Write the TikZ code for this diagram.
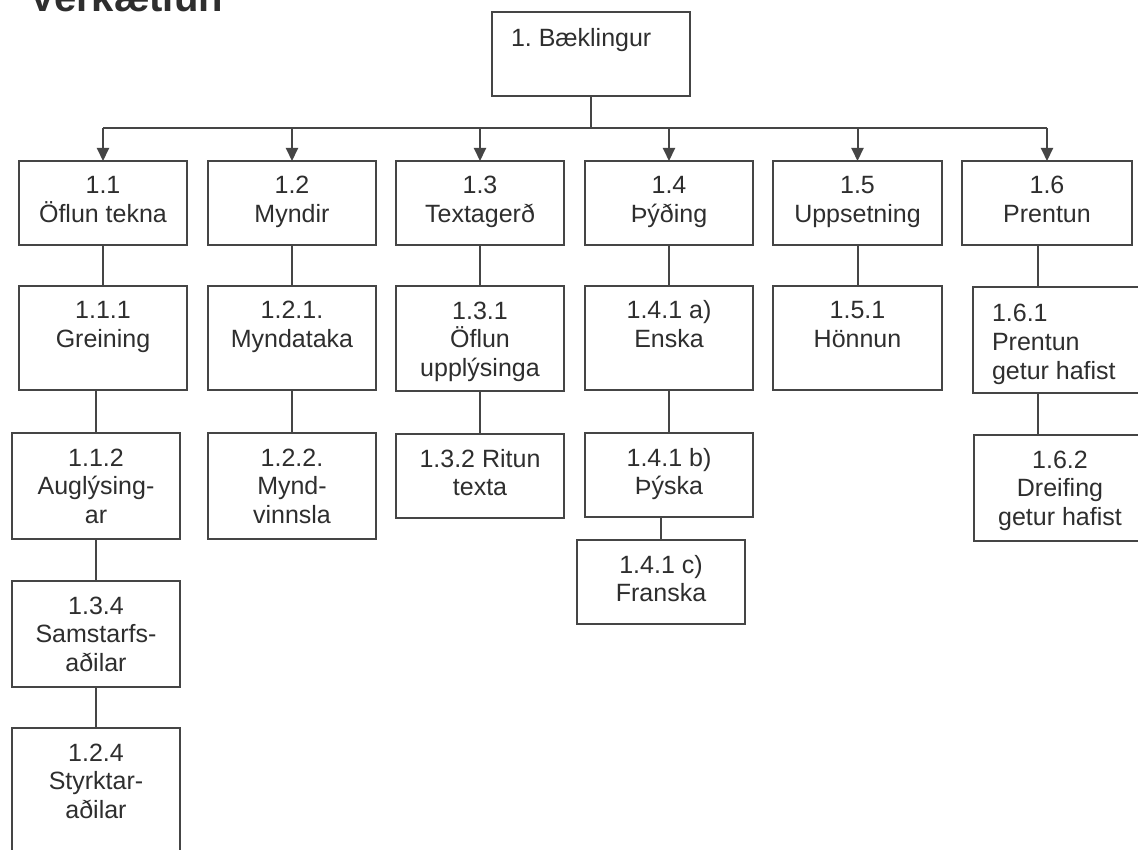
\documentclass[tikz,border=0pt]{standalone}
\usepackage{fontspec}
\setmainfont{Liberation Sans}
\usetikzlibrary{arrows.meta}
\definecolor{linec}{HTML}{454545}
\definecolor{textc}{HTML}{2E2E2E}
\frenchspacing
\newcommand\wbsc[3]{\parbox[c][#1][t]{#2}{\centering\rule{0pt}{33pt}#3}}
\newcommand\wbsl[3]{\parbox[c][#1][t]{#2}{\raggedright\leftskip=19pt\relax\rule{0pt}{35pt}#3}}
\begin{document}
\begin{tikzpicture}[x=1pt,y=-1pt,
  wbs/.style={draw=linec, line width=2pt, inner sep=0pt, outer sep=0pt, anchor=north west, text=textc, font=\fontsize{25}{28.5}\selectfont},
  conn/.style={draw=linec, line width=2pt},
  arr/.style={conn, -{Triangle[length=13pt,width=12pt]}},
  ttl/.style={anchor=base west, text=textc, font=\fontsize{40}{40}\selectfont\bfseries}]
\useasboundingbox (0,0) rectangle (1138,850);
\clip (0,0) rectangle (1138,850);
\fill[white] (0,0) rectangle (1138,850);

\node[ttl] (title) at (26,12) {Verkætlun};

\node[wbs] (n1) at (492,12) {\wbsl{84pt}{198pt}{1. Bæklingur}};

\node[wbs] (n11) at (19,161) {\wbsc{84pt}{168pt}{1.1\\Öflun tekna}};
\node[wbs] (n12) at (208,161) {\wbsc{84pt}{168pt}{1.2\\Myndir}};
\node[wbs] (n13) at (396,161) {\wbsc{84pt}{168pt}{1.3\\Textagerð}};
\node[wbs] (n14) at (585,161) {\wbsc{84pt}{168pt}{1.4\\Þýðing}};
\node[wbs] (n15) at (773,161) {\wbsc{84pt}{169pt}{1.5\\Uppsetning}};
\node[wbs] (n16) at (962,161) {\wbsc{84pt}{170pt}{1.6\\Prentun}};

\node[wbs] (n111) at (19,286) {\wbsc{104pt}{168pt}{1.1.1\\Greining}};
\node[wbs] (n121) at (208,286) {\wbsc{104pt}{168pt}{1.2.1.\\Myndataka}};
\node[wbs] (n131) at (396,286) {\wbsc{105pt}{168pt}{1.3.1\\Öflun\\upplýsinga}};
\node[wbs] (n141a) at (585,286) {\wbsc{104pt}{168pt}{1.4.1 a)\\Enska}};
\node[wbs] (n151) at (773,286) {\wbsc{104pt}{169pt}{1.5.1\\Hönnun}};
\node[wbs] (n161) at (973,287) {\wbsl{106pt}{180pt}{1.6.1\\Prentun\\getur hafist}};

\node[wbs] (n112) at (12,433) {\wbsc{106pt}{168pt}{1.1.2\\Auglýsing-\\ar}};
\node[wbs] (n122) at (208,433) {\wbsc{106pt}{168pt}{1.2.2.\\Mynd-\\vinnsla}};
\node[wbs] (n132) at (396,434) {\wbsc{84pt}{168pt}{1.3.2 Ritun\\texta}};
\node[wbs] (n141b) at (585,433) {\wbsc{84pt}{168pt}{1.4.1 b)\\Þýska}};
\node[wbs] (n141c) at (577,540) {\wbsc{84pt}{168pt}{1.4.1 c)\\Franska}};
\node[wbs] (n162) at (974,435) {\wbsc{106pt}{172pt}{1.6.2\\Dreifing\\getur hafist}};

\node[wbs] (n134) at (12,581) {\wbsc{106pt}{168pt}{1.3.4\\Samstarfs-\\aðilar}};
\node[wbs] (n124) at (12,728) {\wbsc{130pt}{168pt}{1.2.4\\Styrktar-\\aðilar}};

% bus
\coordinate (bus) at (591,128);
\coordinate (c16) at (1038,0);
\draw[conn] (n1.south -| bus) -- (bus);
\draw[conn] (n11.north |- bus) -- (n16.north |- bus);
\foreach \n in {n11,n12,n13,n14,n15,n16}
  \draw[arr] (\n.north |- bus) -- (\n.north);

% vertical chains
\draw[conn] (n11.south) -- (n111.north);
\draw[conn] (n12.south) -- (n121.north);
\draw[conn] (n13.south) -- (n131.north);
\draw[conn] (n14.south) -- (n141a.north);
\draw[conn] (n15.south) -- (n151.north);
\draw[conn] (n16.south -| c16) -- (n161.north -| c16);

\draw[conn] (n112.north |- n111.south) -- (n112.north);
\draw[conn] (n112.south) -- (n134.north);
\draw[conn] (n134.south) -- (n124.north);
\draw[conn] (n121.south) -- (n122.north);
\draw[conn] (n131.south) -- (n132.north);
\draw[conn] (n141a.south) -- (n141b.north);
\draw[conn] (n141c.north |- n141b.south) -- (n141c.north);
\draw[conn] (n161.south -| c16) -- (n162.north -| c16);
\end{tikzpicture}
\end{document}
